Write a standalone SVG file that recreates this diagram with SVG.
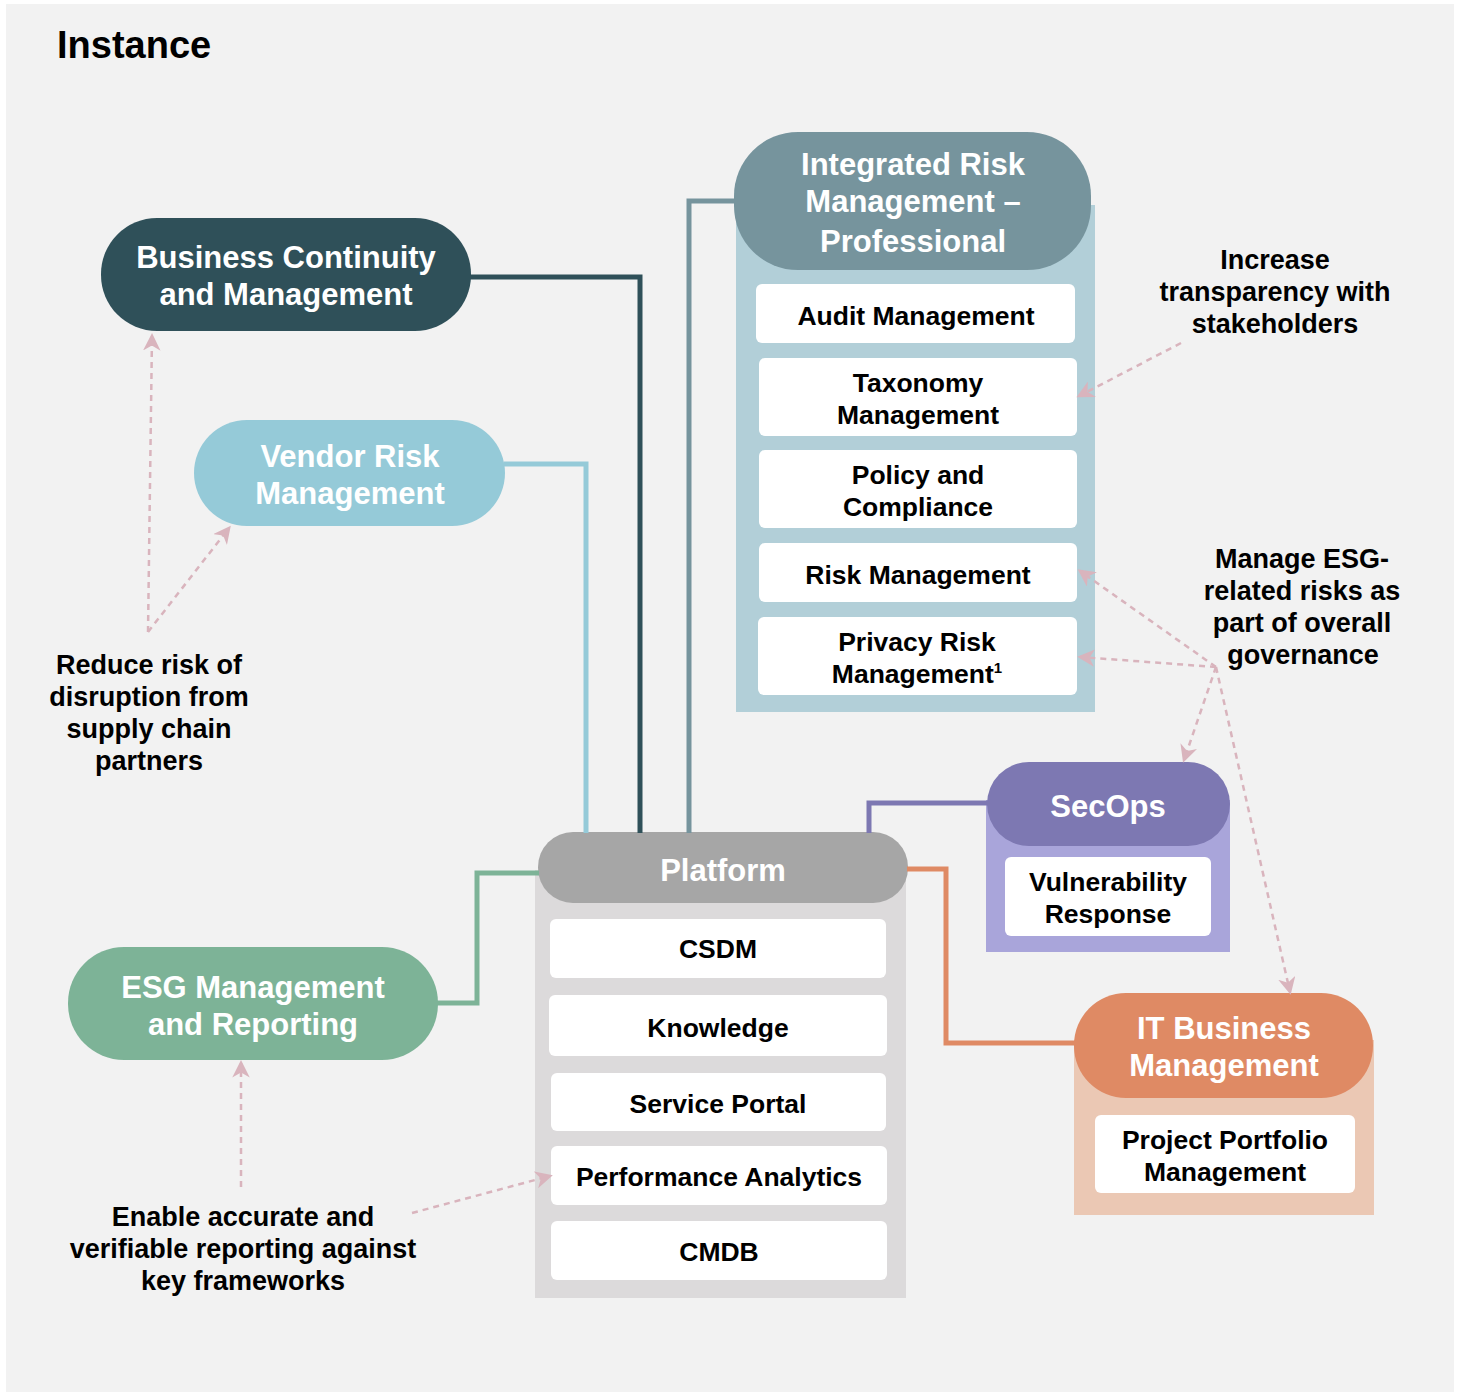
<svg xmlns="http://www.w3.org/2000/svg" width="1460" height="1395" viewBox="0 0 1460 1395">
<style>
text{font-family:"Liberation Sans",Arial,sans-serif;font-weight:bold;text-anchor:middle}
.hd{fill:#fff;font-size:31px}
.it{fill:#000;font-size:26.5px}
.cl{fill:#000;font-size:27px}
.box{fill:#fff}
.conn{fill:none;stroke-width:5}
.dash{fill:none;stroke:#d9b4bd;stroke-width:2.5;stroke-dasharray:6 5;marker-end:url(#ah)}
</style>
<defs>
<marker id="ah" viewBox="0 0 12 12" refX="10" refY="6" markerWidth="7" markerHeight="7" markerUnits="strokeWidth" orient="auto">
<path d="M0,0 L12,6 L0,12 L3.5,6 z" fill="#d9b4bd"/>
</marker>
</defs>
<rect x="0" y="0" width="1460" height="1395" fill="#fff"/>
<rect x="6" y="4" width="1448" height="1388" fill="#f2f2f2"/>
<text x="57" y="58" style="text-anchor:start;font-size:38px;fill:#000">Instance</text>

<g id="business-continuity">
<rect x="101" y="218" width="370" height="113" rx="56" fill="#2f5059"/>
<text class="hd" x="286" y="268">Business Continuity</text>
<text class="hd" x="286" y="305">and Management</text>
</g>

<g id="vendor-risk">
<rect x="194" y="420" width="311" height="106" rx="53" fill="#95cad8"/>
<text class="hd" x="350" y="467">Vendor Risk</text>
<text class="hd" x="350" y="504">Management</text>
</g>

<g id="esg">
<rect x="68" y="947" width="370" height="113" rx="56" fill="#7db397"/>
<text class="hd" x="253" y="998">ESG Management</text>
<text class="hd" x="253" y="1035">and Reporting</text>
</g>

<g id="irm">
<rect x="736" y="205" width="359" height="507" fill="#b2cfd8"/>
<rect x="734" y="132" width="357" height="138" rx="64" fill="#76949d"/>
<text class="hd" x="913" y="175">Integrated Risk</text>
<text class="hd" x="913" y="212">Management –</text>
<text class="hd" x="913" y="252">Professional</text>
<g id="audit-management"><rect class="box" x="756" y="284" width="319" height="59" rx="6"/><text class="it" x="916" y="325">Audit Management</text></g>
<g id="taxonomy-management"><rect class="box" x="759" y="358" width="318" height="78" rx="6"/><text class="it" x="918" y="392">Taxonomy</text><text class="it" x="918" y="424">Management</text></g>
<g id="policy-compliance"><rect class="box" x="759" y="450" width="318" height="78" rx="6"/><text class="it" x="918" y="484">Policy and</text><text class="it" x="918" y="516">Compliance</text></g>
<g id="risk-management"><rect class="box" x="759" y="543" width="318" height="59" rx="6"/><text class="it" x="918" y="584">Risk Management</text></g>
<g id="privacy-risk"><rect class="box" x="758" y="617" width="319" height="78" rx="6"/><text class="it" x="917" y="651">Privacy Risk</text><text class="it" x="917" y="683">Management<tspan font-size="15" dy="-10">1</tspan></text></g>
</g>

<g id="secops">
<rect x="986" y="800" width="244" height="152" fill="#a9a5da"/>
<rect x="987" y="762" width="243" height="84" rx="42" fill="#7d78b2"/>
<text class="hd" x="1108" y="817">SecOps</text>
<g id="vulnerability-response"><rect class="box" x="1005" y="857" width="206" height="79" rx="6"/><text class="it" x="1108" y="891">Vulnerability</text><text class="it" x="1108" y="923">Response</text></g>
</g>

<g id="platform">
<rect x="535" y="870" width="371" height="428" fill="#dcdadb"/>
<rect x="538" y="832" width="370" height="71" rx="35" fill="#a6a6a6"/>
<text class="hd" x="723" y="881">Platform</text>
<g id="csdm"><rect class="box" x="550" y="919" width="336" height="59" rx="6"/><text class="it" x="718" y="958">CSDM</text></g>
<g id="knowledge"><rect class="box" x="549" y="995" width="338" height="61" rx="6"/><text class="it" x="718" y="1037">Knowledge</text></g>
<g id="service-portal"><rect class="box" x="551" y="1073" width="335" height="58" rx="6"/><text class="it" x="718" y="1113">Service Portal</text></g>
<g id="performance-analytics"><rect class="box" x="551" y="1146" width="336" height="59" rx="6"/><text class="it" x="719" y="1186">Performance Analytics</text></g>
<g id="cmdb"><rect class="box" x="551" y="1221" width="336" height="59" rx="6"/><text class="it" x="719" y="1261">CMDB</text></g>
</g>

<g id="it-business">
<rect x="1074" y="1040" width="300" height="175" fill="#ebc8b4"/>
<rect x="1074" y="993" width="299" height="105" rx="52" fill="#df8a64"/>
<text class="hd" x="1224" y="1039">IT Business</text>
<text class="hd" x="1224" y="1076">Management</text>
<g id="project-portfolio"><rect class="box" x="1095" y="1115" width="260" height="78" rx="6"/><text class="it" x="1225" y="1149">Project Portfolio</text><text class="it" x="1225" y="1181">Management</text></g>
</g>

<g id="callouts">
<text class="cl" x="1275" y="269">Increase</text>
<text class="cl" x="1275" y="301">transparency with</text>
<text class="cl" x="1275" y="333">stakeholders</text>
<text class="cl" x="1302" y="568">Manage ESG-</text>
<text class="cl" x="1302" y="600">related risks as</text>
<text class="cl" x="1302" y="632">part of overall</text>
<text class="cl" x="1303" y="664">governance</text>
<text class="cl" x="149" y="674">Reduce risk of</text>
<text class="cl" x="149" y="706">disruption from</text>
<text class="cl" x="149" y="738">supply chain</text>
<text class="cl" x="149" y="770">partners</text>
<text class="cl" x="243" y="1226">Enable accurate and</text>
<text class="cl" x="243" y="1258">verifiable reporting against</text>
<text class="cl" x="243" y="1290">key frameworks</text>
</g>

<g id="connectors">
<path class="conn" stroke="#2f5059" d="M470,277 H640 V833"/>
<path class="conn" stroke="#95cad8" d="M504,464 H586 V833"/>
<path class="conn" stroke="#76949d" d="M735,201 H689 V833"/>
<path class="conn" stroke="#7d78b2" d="M988,803 H869 V833"/>
<path class="conn" stroke="#df8a64" d="M907,869 H946 V1043 H1075"/>
<path class="conn" stroke="#7db397" d="M437,1003 H477 V873 H539"/>
<path class="dash" d="M148,632 L152,336"/>
<path class="dash" d="M148,632 L229,528"/>
<path class="dash" d="M1181,343 L1079,396"/>
<path class="dash" d="M1216,667 L1080,571"/>
<path class="dash" d="M1216,667 L1080,657"/>
<path class="dash" d="M1216,667 L1184,760"/>
<path class="dash" d="M1216,667 L1290,992"/>
<path class="dash" d="M241,1187 L241,1063"/>
<path class="dash" d="M412,1213 L550,1176"/>
</g>
</svg>
